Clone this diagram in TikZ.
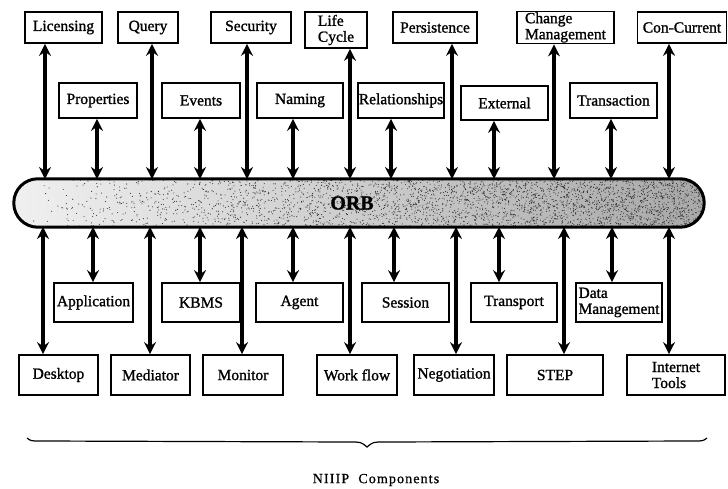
\documentclass[tikz,border=0pt]{standalone}
\usepackage{fontspec}
\setmainfont{Liberation Serif}
\newfontfamily\labelface[FakeBold=1.2]{Liberation Serif}
\newfontfamily\captionface[FakeBold=0.8,LetterSpace=8]{Liberation Serif}
\usetikzlibrary{arrows.meta}
\begin{document}
\begin{tikzpicture}[x=1pt,y=-1pt,
  box/.style={draw,line width=1.7pt,inner sep=1pt,font=\labelface\fontsize{15.5}{16}\selectfont,align=left},
  tipshape/.tip={Stealth[length=12pt,width=12pt,inset=4pt]},
  link/.style={line width=3.4pt,tipshape-tipshape}]
\useasboundingbox (0,0) rectangle (728,489);

% ---- services above the bus ----
\node[box,minimum width=77pt,minimum height=31pt] (lic)  at (63.5,27.5) {Licensing};
\node[box,minimum width=60pt,minimum height=31pt] (qry)  at (148,27.5)  {Query};
\node[box,minimum width=80pt,minimum height=31pt] (sec)  at (251,27.5)  {Security};
\node[box,minimum width=62pt,minimum height=36pt] (life) at (336,30)    {Life\\Cycle};
\node[box,minimum width=84pt,minimum height=31pt] (pers) at (435,27.5)  {Persistence};
\node[box,minimum width=97pt,minimum height=31pt] (chg)  at (565.5,27.5){Change\\Management};
\node[box,minimum width=89pt,minimum height=31pt] (con)  at (682,27.5)  {Con-Current};

\node[box,minimum width=78pt,minimum height=35pt] (prop) at (98,100.5)   {Properties};
\node[box,minimum width=78pt,minimum height=35pt] (evt)  at (201,100.5)  {Events};
\node[box,minimum width=86pt,minimum height=35pt] (nam)  at (300,100.5)  {Naming};
\node[box,minimum width=86pt,minimum height=35pt] (rel)  at (401,100.5)  {Relationships};
\node[box,minimum width=87pt,minimum height=34pt] (ext)  at (504.5,103)  {External};
\node[box,minimum width=87pt,minimum height=35pt] (trn)  at (613.5,100.5){Transaction};

% ---- the object request broker ----
\node[minimum width=690pt,minimum height=48pt,rounded corners=24pt,
      left color=gray!12,right color=gray!68] (orb) at (359,203) {};
\begin{scope}
  \clip[rounded corners=24pt] (14,179) rectangle (704,227);
  \pgfmathsetseed{11}
  \foreach \k in {1,...,3200}{
    \pgfmathsetmacro{\px}{14+690*sqrt(rnd)}
    \pgfmathsetmacro{\py}{179+48*rnd}
    \fill[black!80] (\px,\py) circle[radius=0.55pt];
  }
\end{scope}
\draw[line width=3pt,rounded corners=24pt] (orb.north west) rectangle (orb.south east);
\node[font=\labelface\fontsize{20}{21}\selectfont\bfseries] (orbtxt) at (352,203) {ORB};

% ---- services below the bus ----
\node[box,minimum width=79pt,minimum height=39pt] (app)  at (93.5,302.5) {Application};
\node[box,minimum width=78pt,minimum height=39pt] (kbms) at (201,302.5)  {KBMS};
\node[box,minimum width=87pt,minimum height=39pt] (agt)  at (299.5,302.5){Agent};
\node[box,minimum width=87pt,minimum height=39pt] (ses)  at (405.5,302.5){Session};
\node[box,minimum width=86pt,minimum height=39pt] (trp)  at (514,302.5)  {Transport};
\node[box,minimum width=86pt,minimum height=39pt] (dat)  at (619,302.5)  {Data\\Management};

\node[box,minimum width=79pt,minimum height=40pt] (desk) at (58.5,375)  {Desktop};
\node[box,minimum width=79pt,minimum height=40pt] (med)  at (150.5,375) {Mediator};
\node[box,minimum width=80pt,minimum height=40pt] (mon)  at (243,375)   {Monitor};
\node[box,minimum width=80pt,minimum height=40pt] (wf)   at (357,375)   {Work flow};
\node[box,minimum width=80pt,minimum height=40pt] (neg)  at (454,375)   {Negotiation};
\node[box,minimum width=96pt,minimum height=40pt] (step) at (555,375)   {STEP};
\node[box,minimum width=98pt,minimum height=40pt] (inet) at (676,375)   {Internet\\Tools};

% ---- attachment points on the bus ----
\foreach \n/\x in {t1/45,t2/97,t3/152,t4/200,t5/247,t6/293,t7/350,
                   t8/391,t9/452,t10/494,t11/554,t12/611,t13/669}
  \coordinate (\n) at (\x,179);
\foreach \n/\x in {b1/43,b2/93,b3/150,b4/200,b5/242,b6/293,b7/350,
                   b8/394,b9/456,b10/499,b11/564,b12/612,b13/669}
  \coordinate (\n) at (\x,227);

% ---- connectors ----
\foreach \b/\t in {lic/t1,prop/t2,qry/t3,evt/t4,sec/t5,nam/t6,life/t7,
                   rel/t8,pers/t9,ext/t10,chg/t11,trn/t12,con/t13}
  \draw[link] (\b.south -| \t) -- (\t);
\foreach \b/\t in {desk/b1,app/b2,med/b3,kbms/b4,mon/b5,agt/b6,wf/b7,
                   ses/b8,neg/b9,trp/b10,step/b11,dat/b12,inet/b13}
  \draw[link] (\t) -- (\b.north -| \t);

% ---- grouping brace and caption ----
\draw[line width=1.2pt] (27,438) .. controls (31,441) .. (40,441) -- (350,442)
  .. controls (361,442) .. (367,447) .. controls (373,442) .. (384,442)
  -- (694,441) .. controls (703,441) .. (707,438);
\node[font=\captionface\fontsize{14}{15}\selectfont] (cap) at (376,480) {NIIIP\ \ Components};
\end{tikzpicture}
\end{document}
